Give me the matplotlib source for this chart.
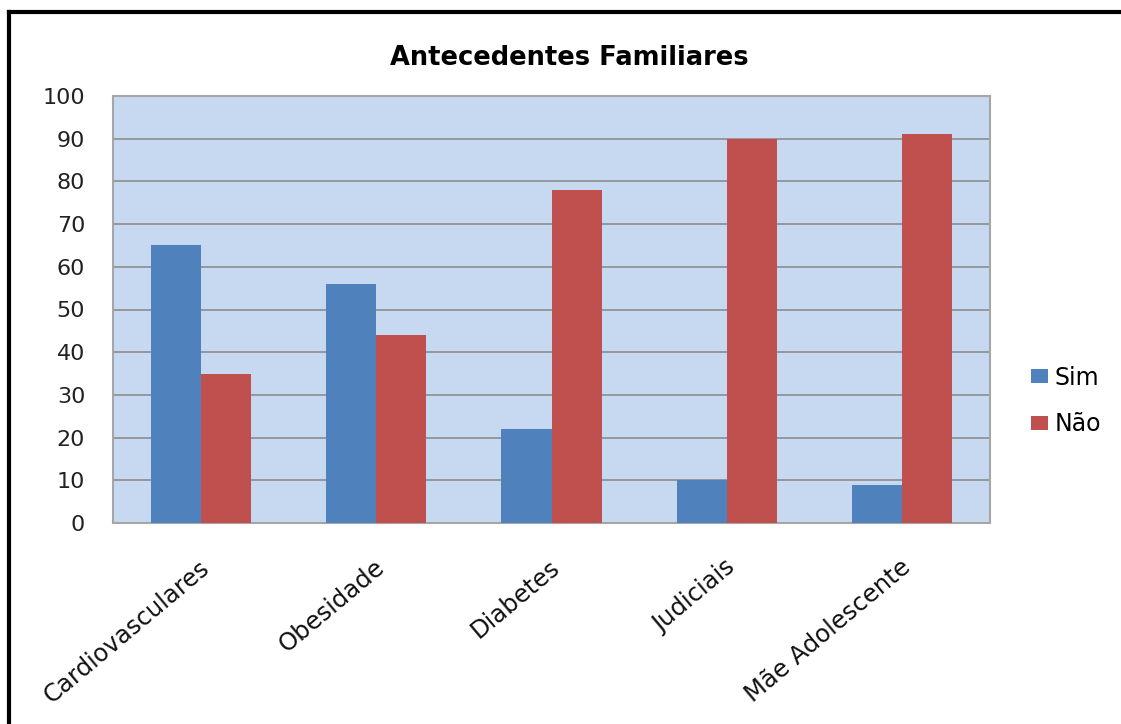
import matplotlib.pyplot as plt
import numpy as np
from matplotlib.lines import Line2D

# data
categorias = ["Cardiovasculares", "Obesidade", "Diabetes", "Judiciais", "Mãe Adolescente"]
sim = [65, 56, 22, 10, 9]
nao = [35, 44, 78, 90, 91]
y_ticks = [0, 10, 20, 30, 40, 50, 60, 70, 80, 90, 100]

plt.rcParams['font.family'] = ['DejaVu Sans']

fig = plt.figure(figsize=(11.21, 7.24), dpi=100)
ax = fig.add_axes([113 / 1121, 1 - 523 / 724, 877 / 1121, 427 / 724])

x = np.arange(len(categorias))
w = 1 / 3.5  # excel gap width 150%
ax.bar(x - w / 2, sim, width=w, color='#4F81BD', label='Sim', zorder=3)
ax.bar(x + w / 2, nao, width=w, color='#C0504D', label='Não', zorder=3)

ax.set_xlim(-0.5, len(categorias) - 0.5)
ax.set_ylim(0, 100)
ax.set_facecolor('#C6D9F0')
ax.set_yticks(y_ticks)
ax.yaxis.grid(True, color='#8C8C8C', linewidth=1.2, zorder=0)
ax.set_axisbelow(True)
for s in ax.spines.values():
    s.set_color('#A6A6A6')
    s.set_linewidth(1.5)

ax.tick_params(axis='y', length=0, pad=20, labelsize=16, labelcolor='#222222')
ax.tick_params(axis='x', length=0)
ax.set_xticks(x)
ax.set_xticklabels([])
for xi, lab in zip(x, categorias):
    ax.annotate(lab, xy=(xi, 0), xycoords=('data', 'axes fraction'),
                xytext=(4, -30), textcoords='offset points',
                rotation=40, rotation_mode='anchor', ha='right', va='center',
                fontsize=17.5, color='#111111')

fig.text(569 / 1121, 1 - 58 / 724, "Antecedentes Familiares",
         ha='center', va='center', fontsize=18.5, fontweight='bold')

ax.legend(loc='center left', bbox_to_anchor=(1.047, 0.286), frameon=False,
          borderpad=0, borderaxespad=0,
          fontsize=17, handlelength=0.7, handleheight=0.55, labelspacing=0.95,
          handletextpad=0.3)

# outer frame (left and top only, like the screenshot)
fig.add_artist(Line2D([9 / 1121, 9 / 1121], [0, 1 - 12 / 724], color='black',
                      linewidth=3, transform=fig.transFigure))
fig.add_artist(Line2D([9 / 1121, 1], [1 - 12 / 724, 1 - 12 / 724], color='black',
                      linewidth=3, transform=fig.transFigure))

fig.savefig('out.png', dpi=100)
